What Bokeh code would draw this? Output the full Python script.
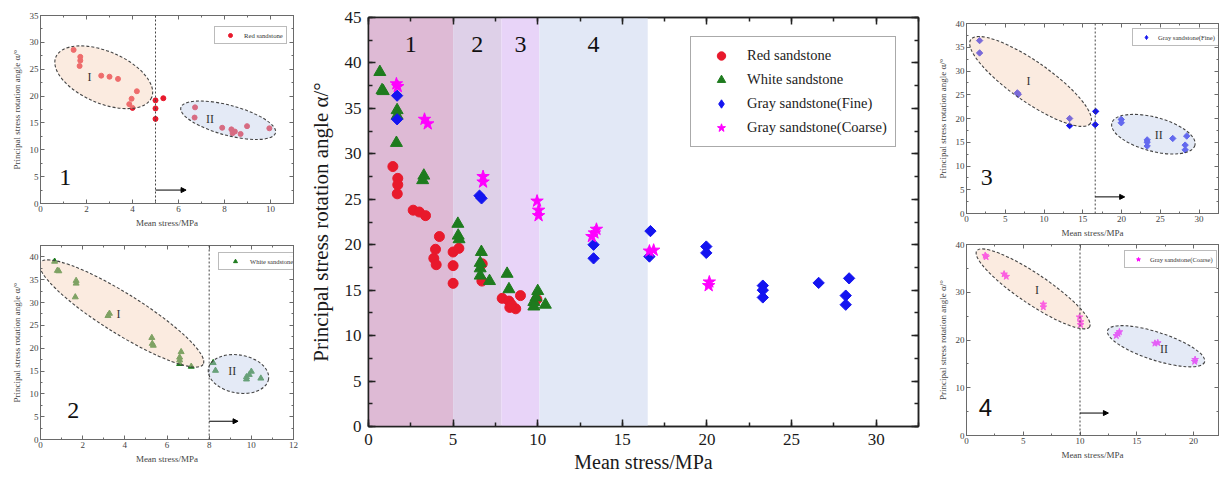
from bokeh.plotting import figure
from bokeh.models import (Range1d, LinearAxis, BoxAnnotation, Legend, LegendItem, Span,
                          Arrow, NormalHead, SingleIntervalTicker, ColumnDataSource,
                          CustomJSTickFormatter)
from bokeh.layouts import row, column
from bokeh.embed import file_html
from bokeh.resources import INLINE
from bokeh.core.properties import value

SERIF = "Liberation Serif"
SANS = "Liberation Sans"

# ---------------- data ----------------
red_x = [1.44, 1.73, 1.73, 1.70, 2.64, 3.00, 3.37, 4.19, 3.96, 3.86, 4.00, 5.00, 5.34, 5.00, 5.00,
         6.72, 6.70, 7.90, 8.30, 8.35, 8.70, 8.98, 9.95, 8.45]
red_y = [28.6, 27.3, 26.6, 25.6, 23.8, 23.6, 23.2, 20.9, 19.5, 18.5, 17.8, 19.2, 19.6, 17.7, 15.75,
         17.9, 16.0, 14.1, 13.8, 13.1, 12.95, 14.4, 14.0, 13.4]

white_x = [0.67, 0.87, 0.80, 1.69, 1.69, 1.65, 3.27, 3.20, 5.28, 5.30, 5.35, 6.67, 6.60, 6.60, 6.60,
           7.15, 8.19, 8.30, 9.77, 9.77, 9.90, 10.00, 10.45]
white_y = [39.0, 36.9, 37.0, 34.8, 34.2, 31.2, 27.6, 27.1, 22.3, 21.0, 20.6, 19.2, 18.0, 17.4, 16.6,
           16.0, 16.8, 15.1, 13.7, 13.2, 14.2, 14.9, 13.4]

fine_x = [1.69, 1.69, 6.56, 6.68, 13.30, 13.30, 16.66, 16.60, 19.96, 19.96, 23.30, 23.30, 23.30,
          26.60, 28.20, 28.20, 28.40]
fine_y = [36.4, 33.8, 25.4, 25.1, 20.0, 18.5, 21.5, 18.7, 19.8, 19.1, 15.5, 15.0, 14.2,
          15.8, 14.4, 13.4, 16.3]

coarse_x = [1.65, 1.73, 3.31, 3.50, 6.77, 6.77, 9.96, 10.05, 10.05, 13.20, 13.35, 13.47, 16.60, 16.85,
            20.14, 20.10]
coarse_y = [37.7, 37.4, 33.8, 33.3, 27.5, 26.9, 24.8, 23.8, 23.2, 20.9, 21.3, 21.7, 19.3, 19.4,
            15.9, 15.5]

series_names = ["Red sandstone", "White sandstone", "Gray sandstone(Fine)", "Gray sandstone(Coarse)"]
zone_edges = [0.0, 5.0, 7.85, 10.1, 16.5]
zone_labels = ["1", "2", "3", "4"]
zone_label_y = [42.0, 42.0, 42.0, 42.0]
zone_colors = ["#debad5", "#ded0e8", "#e8d4f8", "#e2e8f6"]

# inset thresholds (dividing line of stage I / II)
thresholds = [5.0, 8.0, 16.6, 10.0]

COL = {"red": "#e8192c", "green": "#1e7b1e", "blue": "#1414f0", "mag": "#ff00ff"}
EMPTY = CustomJSTickFormatter(code="return ''")


def make_fig(width, height, xr, yr, borders):
    l, r, t, b = borders
    p = figure(width=width, height=height, x_range=Range1d(*xr), y_range=Range1d(*yr),
               output_backend="svg", toolbar_location=None,
               min_border_left=l, min_border_right=r, min_border_top=t, min_border_bottom=b)
    p.grid.visible = False
    p.background_fill_color = "white"
    p.border_fill_color = "white"
    return p


def style_axes(p, xint, yint, xlabel, ylabel, tick_fs, xlabel_fs, ylabel_fs, line_color, text_color,
               tick_in, minor_in, lw, lab_so, ax_so_x, ax_so_y):
    xt = SingleIntervalTicker(interval=xint, num_minor_ticks=2)
    yt = SingleIntervalTicker(interval=yint, num_minor_ticks=2)
    ax_x = p.xaxis[0]
    ax_y = p.yaxis[0]
    ax_x.ticker = xt
    ax_y.ticker = yt
    ax_x.axis_label = xlabel
    ax_y.axis_label = ylabel
    ax_x.axis_label_standoff = ax_so_x
    ax_y.axis_label_standoff = ax_so_y
    ax_x.axis_label_text_font_size = xlabel_fs
    ax_y.axis_label_text_font_size = ylabel_fs
    for ax in (ax_x, ax_y):
        ax.major_label_text_font = SERIF
        ax.major_label_text_font_size = tick_fs
        ax.major_label_text_color = text_color
        ax.major_label_standoff = lab_so
        ax.axis_label_text_font = SERIF
        ax.axis_label_text_font_style = "normal"
        ax.axis_label_text_color = text_color
    extra = []
    for loc, tk in (("above", xt), ("right", yt)):
        ax = LinearAxis(ticker=tk, formatter=EMPTY)
        ax.major_label_standoff = 0
        p.add_layout(ax, loc)
        extra.append(ax)
    for ax in [ax_x, ax_y] + extra:
        ax.major_tick_in = tick_in
        ax.major_tick_out = 0
        ax.minor_tick_in = minor_in
        ax.minor_tick_out = 0
        ax.axis_line_color = line_color
        ax.axis_line_width = lw
        ax.major_tick_line_color = line_color
        ax.minor_tick_line_color = line_color
        ax.major_tick_line_width = lw
        ax.minor_tick_line_width = lw
    p.outline_line_color = line_color
    p.outline_line_width = lw


# ---------------- main chart ----------------
main = make_fig(616, 478, (0, 32.5), (0, 45), (64, 2, 17, 52))
style_axes(main, 5, 5, "Mean stress/MPa", "Principal stress rotation angle \u03b1/\u00b0",
           "17px", "20px", "21px", "#222222", "#1a1a1a", 7, 4, 1.5, 7, 3, 9)

for i in range(len(zone_labels)):
    main.add_layout(BoxAnnotation(left=zone_edges[i], right=zone_edges[i + 1],
                                  fill_color=zone_colors[i], fill_alpha=1.0,
                                  line_alpha=0, level="underlay"))
zsrc = ColumnDataSource(dict(
    x=[(zone_edges[i] + zone_edges[i + 1]) / 2 for i in range(len(zone_labels))],
    y=zone_label_y, t=zone_labels))
main.text(x="x", y="y", text="t", source=zsrc, text_font=value(SERIF),
          text_font_size=value("24px"), text_align="center", text_baseline="middle",
          text_color="#111111")

r1 = main.scatter(red_x, red_y, marker="circle", size=10, fill_color=COL["red"], line_color=COL["red"])
r2 = main.scatter(white_x, white_y, marker="triangle", size=12, fill_color=COL["green"], line_color=COL["green"])
# legend swatch for the diamond series (tiny, hidden under the rotated squares)
r3_key = main.scatter(fine_x, fine_y, marker="diamond", size=1, fill_color=COL["blue"], line_color=COL["blue"])
r3 = main.scatter(fine_x, fine_y, marker="square", size=8, angle=45, angle_units="deg",
                  fill_color=COL["blue"], line_color=COL["blue"])
r4 = main.scatter(coarse_x, coarse_y, marker="star", size=13, fill_color=COL["mag"], line_color=COL["mag"])

leg = Legend(items=[LegendItem(label=n, renderers=[r]) for n, r in zip(series_names, [r1, r2, r3_key, r4])],
             location=(322, 279), label_text_font=SERIF, label_text_font_size="14.5px",
             label_text_color="#222222", glyph_width=44, glyph_height=21, label_height=20,
             label_standoff=4, spacing=3, padding=8, border_line_color="#555555",
             border_line_width=1.2, background_fill_color="white", background_fill_alpha=1.0)
main.add_layout(leg)

# ---------------- insets ----------------
ORANGE = "#f6d3ba"
BLUEGR = "#c3d0eb"


def inset(width, height, xr, yr, borders, xint, yint, xs, ys, marker, size, color, name,
          thr, arrow_end, arrow_y, ell, roman, big, big_font, leg_loc, leg_fs, leg_gw,
          angle=0, key_marker=None):
    p = make_fig(width, height, xr, yr, borders)
    style_axes(p, xint, yint, "Mean stress/MPa", "Principal stress rotation angle \u03b1/\u00b0",
               "9px", "9px", "9px", "#6a6a6a", "#444444", 4, 2, 1, 2, 3, 5)
    key = None
    if key_marker is not None:
        key = p.scatter(xs, ys, marker=key_marker, size=1, fill_color=color, line_color=color)
    r = p.scatter(xs, ys, marker=marker, size=size, angle=angle, angle_units="deg",
                  fill_color=color, line_color=color)
    if key is None:
        key = r
    # stage ellipses over the points
    p.ellipse(x=ell["x"], y=ell["y"], width=ell["w"], height=ell["h"], angle=ell["a"],
              angle_units="deg", width_units="screen", height_units="screen",
              fill_color=[ORANGE, BLUEGR], fill_alpha=0.45, line_color="#444444",
              line_width=1.1, line_dash="3 2")
    p.add_layout(Span(location=thr, dimension="height", line_color="#444444",
                      line_dash="2 2", line_width=1))
    p.add_layout(Arrow(end=NormalHead(size=5, fill_color="black", line_color="black"),
                       x_start=thr, y_start=arrow_y, x_end=arrow_end, y_end=arrow_y,
                       line_color="black", line_width=1))
    p.text(x=roman["x"], y=roman["y"], text=["I", "II"], text_font=value(SERIF),
           text_font_size=value("12px"), text_align="center", text_baseline="middle",
           text_color="#333333")
    p.text(x=[big[0]], y=[big[1]], text=[big[2]], text_font=value(big_font),
           text_font_size=value("24px"), text_align="center", text_baseline="middle",
           text_color="#111111")
    lg = Legend(items=[LegendItem(label=name, renderers=[key])], location=leg_loc,
                label_text_font=SERIF, label_text_font_size=leg_fs, label_text_color="#333333",
                glyph_width=leg_gw, glyph_height=10, label_height=10, label_standoff=2,
                padding=3, border_line_color="#777777", border_line_width=1,
                background_fill_color="white")
    p.add_layout(lg)
    return p


f1 = inset(304, 230, (0, 11), (0, 35), (40, 9, 15, 26), 2, 5, red_x, red_y, "circle", 5,
           COL["red"], series_names[0], thresholds[0], 6.33, 2.5,
           dict(x=[2.75, 8.16], y=[23.5, 15.5], w=[104, 98], h=[52, 30], a=[-23, -15]),
           dict(x=[2.13, 7.37], y=[23.5, 15.7]), (1.08, 4.8, "1"), SERIF,
           (174, 159), "6.7px", 24)

f2 = inset(304, 248, (0, 12), (0, 42.5), (32, 11, 15, 39), 2, 5, white_x, white_y, "triangle", 6,
           COL["green"], series_names[1], thresholds[1], 9.37, 4.0,
           dict(x=[3.85, 9.39], y=[27.6, 14.35], w=[192, 61], h=[40, 38], a=[-32, -10]),
           dict(x=[3.7, 9.1], y=[27.4, 15.0]), (1.55, 6.4, "2"), SERIF,
           (178, 169), "6.5px", 26)

f3 = inset(305, 240, (0, 32.5), (0, 40), (46, 2, 23, 26), 5, 5, fine_x, fine_y, "square", 4.5,
           COL["blue"], series_names[2], thresholds[2], 20.4, 3.5,
           dict(x=[8.26, 24.1], y=[27.8, 16.7], w=[146, 86], h=[40, 34], a=[-35, -15]),
           dict(x=[8.0, 24.8], y=[28.0, 16.5]), (2.6, 7.5, "3"), SERIF,
           (166, 167), "6.6px", 20, angle=45, key_marker="diamond")

f4 = inset(305, 238, (0, 22.2), (0, 40), (44, 7, 4, 43), 5, 10, coarse_x, coarse_y, "star", 7,
           COL["mag"], series_names[3], thresholds[3], 12.5, 4.7,
           dict(x=[5.87, 16.7], y=[30.7, 18.7], w=[136, 102], h=[30, 28], a=[-34, -18]),
           dict(x=[6.2, 17.4], y=[30.5, 18.1]), (1.66, 5.9, "4"), SANS,
           (158, 167), "6.5px", 20)

layout = row(column(f1, f2), main, column(f3, f4))

open("out.html", "w").write(file_html(layout, INLINE))
